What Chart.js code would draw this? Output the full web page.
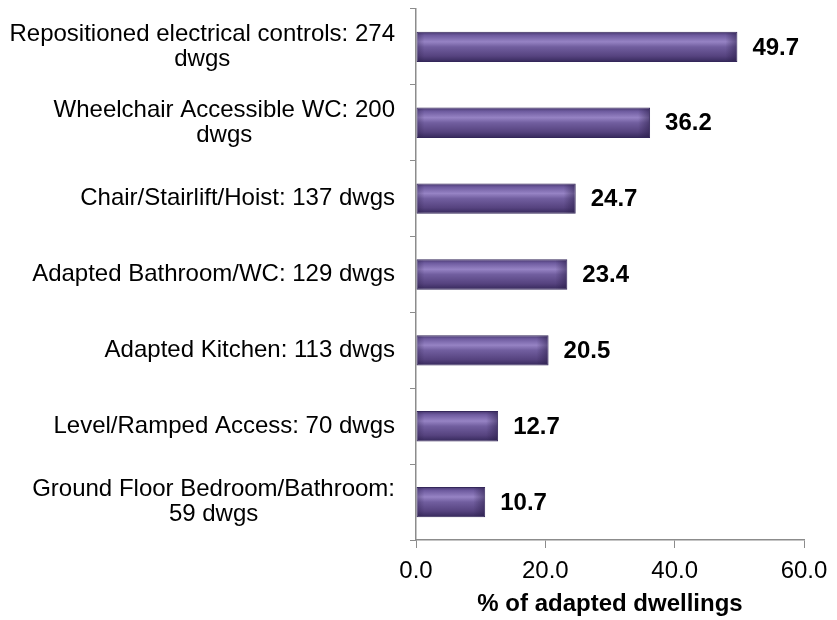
<!DOCTYPE html>
<html>
<head>
<meta charset="utf-8">
<script src="https://cdn.jsdelivr.net/npm/chart.js@4.4.1/dist/chart.umd.min.js"></script>
<style>
  html, body { margin: 0; padding: 0; background: #fff; }
  #wrap { width: 837px; height: 620px; }
</style>
</head>
<body>
<div id="wrap"><canvas id="c"></canvas></div>
<script>
// categories (top to bottom), each as label lines
const categories = [
  ['Repositioned electrical controls: 274', 'dwgs'],
  ['Wheelchair Accessible WC: 200', 'dwgs'],
  ['Chair/Stairlift/Hoist: 137 dwgs'],
  ['Adapted Bathroom/WC: 129 dwgs'],
  ['Adapted Kitchen: 113 dwgs'],
  ['Level/Ramped Access: 70 dwgs'],
  ['Ground Floor Bedroom/Bathroom:', '59 dwgs']
];
const pctValues = [49.7, 36.2, 24.7, 23.4, 20.5, 12.7, 10.7];
const xTicks = [0, 20, 40, 60];
const xTitle = '% of adapted dwellings';

const FONT = 'Arial, "Liberation Sans", sans-serif';
const axisGrey = '#8c8c8c';

// bevelled purple fill, one gradient per bar
function barFill (ctx) {
  const chart = ctx.chart;
  const y = chart.scales.y;
  if (!y || ctx.dataIndex === undefined) return '#5f4b8b';
  const c = y.getPixelForValue(ctx.dataIndex);
  const h = y.getPixelForValue(1) - y.getPixelForValue(0);
  if (!isFinite(c) || !isFinite(h) || h === 0) return '#5f4b8b';
  const half = Math.abs(h) * 0.4 / 2;
  const g = chart.ctx.createLinearGradient(0, c - half, 0, c + half);
  g.addColorStop(0, '#46366e');
  g.addColorStop(0.12, '#6e5b9f');
  g.addColorStop(0.33, '#9683c4');
  g.addColorStop(0.5, '#715e9f');
  g.addColorStop(0.8, '#56437f');
  g.addColorStop(1, '#35285a');
  return g;
}

// darker bevel at the ends of each bar
const bevelPlugin = {
  id: 'bevel',
  afterDatasetsDraw (chart) {
    const ctx = chart.ctx;
    const meta = chart.getDatasetMeta(0);
    ctx.save();
    meta.data.forEach((bar) => {
      const top = bar.y - bar.height / 2;
      const x1 = bar.x;
      const x0 = bar.base;
      let g = ctx.createLinearGradient(x1 - 12, 0, x1, 0);
      g.addColorStop(0, 'rgba(40,28,70,0)');
      g.addColorStop(1, 'rgba(40,28,70,0.55)');
      ctx.fillStyle = g;
      ctx.fillRect(x1 - 12, top + 1, 11, bar.height - 2);
      g = ctx.createLinearGradient(x0, 0, x0 + 8, 0);
      g.addColorStop(0, 'rgba(40,28,70,0.35)');
      g.addColorStop(1, 'rgba(40,28,70,0)');
      ctx.fillStyle = g;
      ctx.fillRect(x0 + 1, top + 1, 8, bar.height - 2);
    });
    ctx.restore();
  }
};

const labelsPlugin = {
  id: 'catLabels',
  afterDraw (chart) {
    const ctx = chart.ctx;
    const y = chart.scales.y;
    const right = chart.chartArea.left - 21;
    const lh = 25;
    ctx.save();
    ctx.font = '24px ' + FONT;
    ctx.fillStyle = '#000';
    ctx.textBaseline = 'middle';
    ctx.textAlign = 'center';
    categories.forEach((lines, i) => {
      const cy = y.getPixelForValue(i);
      const w = Math.max(...lines.map(l => ctx.measureText(l).width));
      const cx = right - w / 2;
      const top = cy - (lines.length - 1) * lh / 2;
      lines.forEach((l, k) => ctx.fillText(l, cx, top + k * lh));
    });

    // value labels at bar ends
    ctx.font = 'bold 24px ' + FONT;
    ctx.textAlign = 'left';
    const meta = chart.getDatasetMeta(0);
    meta.data.forEach((bar, i) => {
      ctx.fillText(pctValues[i].toFixed(1), bar.x + 15, bar.y + 1);
    });
    ctx.restore();
  }
};

new Chart(document.getElementById('c'), {
  type: 'bar',
  data: {
    labels: categories.map(l => l.join(' ')),
    datasets: [{
      data: pctValues,
      backgroundColor: barFill,
      borderColor: '#34275a',
      borderWidth: 1,
      borderSkipped: false,
      barPercentage: 0.4,
      categoryPercentage: 1.0
    }]
  },
  options: {
    indexAxis: 'y',
    responsive: true,
    maintainAspectRatio: false,
    animation: false,
    layout: { padding: { left: 0, right: 33, top: 9, bottom: 0 } },
    plugins: {
      legend: { display: false },
      tooltip: { enabled: false }
    },
    scales: {
      x: {
        min: 0,
        max: 60,
        afterBuildTicks (scale) {
          scale.ticks = xTicks.map(v => ({ value: v }));
        },
        afterFit (scale) { scale.height = 80; },
        ticks: {
          color: '#000',
          font: { family: FONT, size: 24 },
          padding: 9,
          maxRotation: 0,
          callback: v => Number(v).toFixed(1)
        },
        grid: {
          drawOnChartArea: false,
          drawTicks: true,
          tickLength: 8,
          color: axisGrey
        },
        border: { color: axisGrey, width: 1.5 },
        title: {
          display: true,
          text: xTitle,
          color: '#000',
          font: { family: FONT, size: 24, weight: 'bold' },
          padding: { top: 0, bottom: 1 }
        }
      },
      y: {
        offset: true,
        ticks: { display: false },
        afterFit (scale) { scale.width = 416; },
        grid: {
          drawOnChartArea: false,
          drawTicks: true,
          tickLength: 6,
          offset: true,
          color: axisGrey
        },
        border: { color: axisGrey, width: 1.5 }
      }
    }
  },
  plugins: [bevelPlugin, labelsPlugin]
});
</script>
</body>
</html>
